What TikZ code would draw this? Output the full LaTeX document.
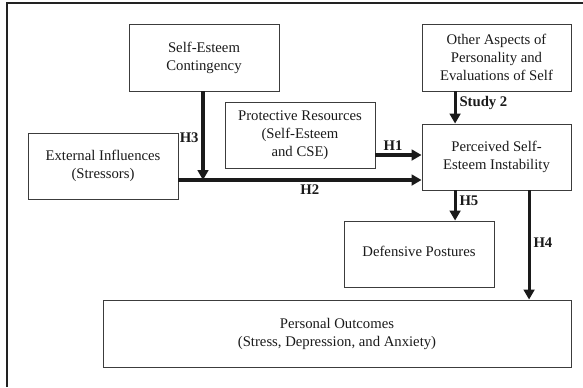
\documentclass[tikz,border=0pt]{standalone}
\usepackage{fontspec}
\setmainfont{Liberation Serif}
\usetikzlibrary{positioning, calc, arrows.meta}
\definecolor{Frame}{HTML}{222222}
\definecolor{Ink}{HTML}{1A1A1A}
\tikzset{
    box/.style={rectangle, draw=Ink!85, line width=0.6pt, text=Ink, align=center, font=\fontsize{10.3pt}{12.6pt}\selectfont, inner sep=2pt},
    hyp/.style={-{Triangle[width=7.5pt,length=7pt]}, line width=2.2pt, color=Ink},
    hlabel/.style={font=\fontsize{10.3pt}{12.6pt}\selectfont\bfseries, text=Ink, inner sep=2pt},
}

\begin{document}
\begin{tikzpicture}[x=0.7pt, y=-0.7pt]
    % Riquadro esterno
    \useasboundingbox (0,0) rectangle (583,387);
    \draw[Frame, line width=1.8pt] (7,387) -- (7,3) -- (583,3);

    % Blocchi
    \node[box, minimum width=105pt, minimum height=46.9pt] (cont) at (204,57.5) {Self-Esteem\\Contingency};
    \node[box, minimum width=105pt, minimum height=46.2pt] (ext) at (103,166) {External Influences\\(Stressors)};
    \node[box, minimum width=105pt, minimum height=46.2pt] (prot) at (300,135) {Protective Resources\\(Self-Esteem\\and CSE)};
    \node[box, minimum width=104.3pt, minimum height=46.9pt] (other) at (496.5,57.5) {Other Aspects of\\Personality and\\Evaluations of Self};
    \node[box, minimum width=104.3pt, minimum height=46.2pt] (perc) at (496.5,157) {Perceived Self-\\Esteem Instability};
    \node[box, minimum width=105pt, minimum height=46.2pt] (def) at (419,254) {\raisebox{3.5pt}{Defensive Postures}};
    \node[box, minimum width=327.6pt, minimum height=46.9pt] (pers) at (337,333.5)
        {\raisebox{3.5pt}{\begin{tabular}{@{}c@{}}Personal Outcomes\\(Stress, Depression, and Anxiety)\end{tabular}}};

    % Ipotesi
    \draw[hyp] ([yshift=-9.8pt]ext.east) coordinate (h2s) -- (h2s -| perc.west)
        node[hlabel, pos=0.54, below] {H2};
    \draw[hyp] ([xshift=-0.7pt]cont.south) -- ([xshift=-0.7pt]cont.south |- h2s)
        node[hlabel, pos=0.52, left] {H3};
    \draw[hyp] ([yshift=-14pt]prot.east) coordinate (h1s) -- (h1s -| perc.west)
        node[hlabel, pos=0.38, above] {H1};
    \draw[hyp] ([xshift=-29pt]other.south) coordinate (s2s) -- (s2s |- perc.north)
        node[hlabel, pos=0.36, right] {Study 2};
    \draw[hyp] ([xshift=-29pt]perc.south) coordinate (h5s) -- (h5s |- def.north)
        node[hlabel, pos=0.35, right] {H5};
    \draw[hyp] ([xshift=22.8pt]perc.south) coordinate (h4s) -- (h4s |- pers.north)
        node[hlabel, pos=0.48, right] {H4};
\end{tikzpicture}
\end{document}
